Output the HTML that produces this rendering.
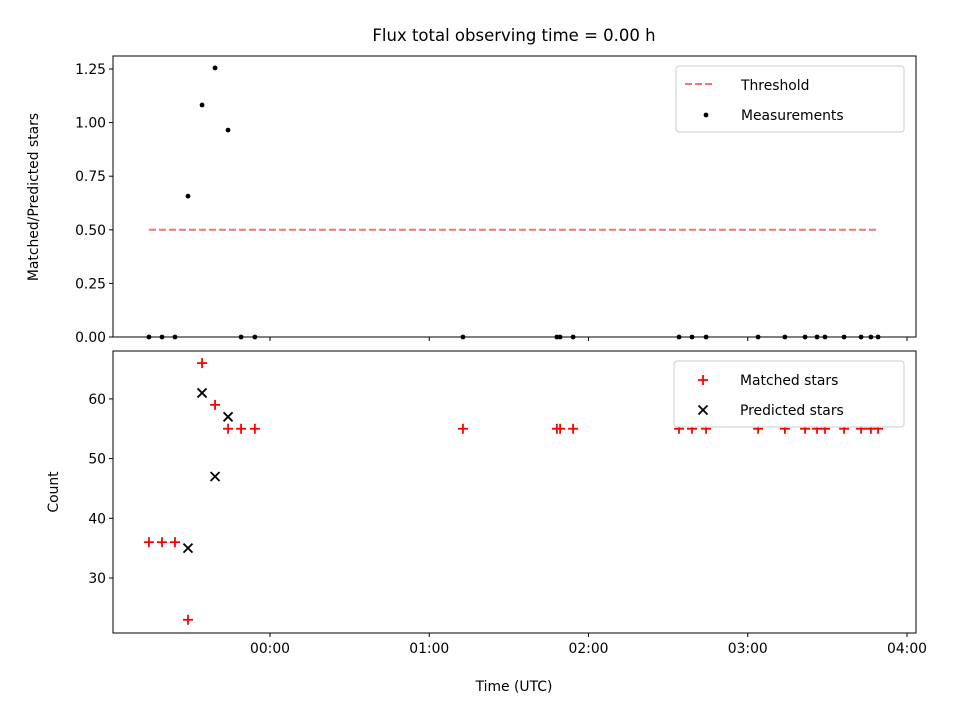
<!DOCTYPE html>
<html><head><meta charset="utf-8"><style>
body{margin:0;background:#fff}
svg{display:block;font-family:"DejaVu Sans","Liberation Sans",sans-serif}
</style></head><body>
<svg id="chart" width="960" height="720" viewBox="0 0 960 720"></svg>
<script>
const timesMin=[-45.6,-40.7,-35.8,-30.9,-25.6,-20.7,-15.8,-10.9,-5.7,72.7,108.1,109.3,114.2,154.1,159.0,164.3,183.9,194.0,201.6,206.1,209.1,216.3,222.7,226.4,229.1];
const ratioValues=[0,0,0,0.657,1.082,1.255,0.965,0,0,0,0,0,0,0,0,0,0,0,0,0,0,0,0,0,0];
const matchedValues=[36,36,36,23,66,59,55,55,55,55,55,55,55,55,55,55,55,55,55,55,55,55,55,55,55];
const predictedTimes=[-30.9,-25.6,-20.7,-15.8];
const predictedValues=[35,61,47,57];
const thresholdValue=0.5;
const xTickLabels=["00:00","01:00","02:00","03:00","04:00"];
const xTickMins=[0,60,120,180,240];
const topYTicks=[0,0.25,0.5,0.75,1.0,1.25];
const botYTicks=[30,40,50,60];

const NS="http://www.w3.org/2000/svg";
const svg=document.getElementById("chart");
function el(tag,attrs,parent){const e=document.createElementNS(NS,tag);for(const k in attrs)e.setAttribute(k,attrs[k]);(parent||svg).appendChild(e);return e;}
const L=113,R=916;
const xS=m=>270+m*(159.25/60);
const topT=56,topB=337,botT=351,botB=633;
const yTop=v=>337-v*214.4;
const yBot=v=>578-(v-30)*5.97;

let t=el("text",{x:514,y:41,"text-anchor":"middle","font-size":"16.5"});
t.textContent="Flux total observing time = 0.00 h";



const g1=el("g",{});


const thr=el("line",{x1:xS(timesMin[0]),x2:xS(timesMin[timesMin.length-1]),y1:yTop(thresholdValue),y2:yTop(thresholdValue),stroke:"#ff7070","stroke-width":2,"stroke-dasharray":"7,3"},g1);


timesMin.forEach((m,i)=>{const c=el("circle",{cx:xS(m),cy:yTop(ratioValues[i]),r:2.4,fill:"#000"},g1);

});
const f1=el("rect",{x:L,y:topT,width:R-L,height:topB-topT,fill:"none",stroke:"#000","stroke-width":1},g1);


topYTicks.forEach(v=>{const y=yTop(v);el("line",{x1:L-4,x2:L,y1:y,y2:y,stroke:"#000"},g1);
const tx=el("text",{x:L-7,y:y+5,"text-anchor":"end","font-size":"13.9"},g1);tx.textContent=v.toFixed(2);

});
xTickMins.forEach(m=>{el("line",{x1:xS(m),x2:xS(m),y1:topB,y2:topB+4,stroke:"#000"},g1);});
const yl1=el("text",{transform:"translate(38,197) rotate(-90)","text-anchor":"middle","font-size":"13.9"},g1);
yl1.textContent="Matched/Predicted stars";


const lg1=el("g",{},g1);


el("rect",{x:676,y:66,width:228,height:66,rx:3,fill:"#fff",stroke:"#ccc"},lg1);
el("line",{x1:685,x2:713,y1:84,y2:84,stroke:"#ff7070","stroke-width":2,"stroke-dasharray":"7,3"},lg1);
let lt=el("text",{x:741,y:90,"font-size":"13.9"},lg1);lt.textContent="Threshold";
el("circle",{cx:706,cy:115,r:2.4,fill:"#000"},lg1);
lt=el("text",{x:741,y:120,"font-size":"13.9"},lg1);lt.textContent="Measurements";

const g2=el("g",{});


function plus(x,y,p){const g=el("g",{stroke:"#f00","stroke-width":1.8},p);el("line",{x1:x-5,x2:x+5,y1:y,y2:y},g);el("line",{x1:x,x2:x,y1:y-5,y2:y+5},g);return g;}
function cross(x,y,p){const g=el("g",{stroke:"#000","stroke-width":1.8},p);el("line",{x1:x-4.5,x2:x+4.5,y1:y-4.5,y2:y+4.5},g);el("line",{x1:x-4.5,x2:x+4.5,y1:y+4.5,y2:y-4.5},g);return g;}
timesMin.forEach((m,i)=>{const p=plus(xS(m),yBot(matchedValues[i]),g2);

});
predictedTimes.forEach((m,i)=>{const c=cross(xS(m),yBot(predictedValues[i]),g2);

});
const f2=el("rect",{x:L,y:botT,width:R-L,height:botB-botT,fill:"none",stroke:"#000","stroke-width":1},g2);


botYTicks.forEach(v=>{const y=yBot(v);el("line",{x1:L-4,x2:L,y1:y,y2:y,stroke:"#000"},g2);
const tx=el("text",{x:L-7,y:y+5,"text-anchor":"end","font-size":"13.9"},g2);tx.textContent=String(v);

});
xTickMins.forEach((m,i)=>{el("line",{x1:xS(m),x2:xS(m),y1:botB,y2:botB+4,stroke:"#000"},g2);
const tx=el("text",{x:xS(m),y:botB+20,"text-anchor":"middle","font-size":"13.9"},g2);tx.textContent=xTickLabels[i];

});
const yl2=el("text",{transform:"translate(58,492) rotate(-90)","text-anchor":"middle","font-size":"13.9"},g2);
yl2.textContent="Count";


const xl=el("text",{x:514,y:691,"text-anchor":"middle","font-size":"13.9"},g2);
xl.textContent="Time (UTC)";


const lg2=el("g",{},g2);


el("rect",{x:674,y:361,width:230,height:66,rx:3,fill:"#fff",stroke:"#ccc"},lg2);
plus(703,380,lg2);
lt=el("text",{x:740,y:385,"font-size":"13.9"},lg2);lt.textContent="Matched stars";
cross(703,410,lg2);
lt=el("text",{x:740,y:415,"font-size":"13.9"},lg2);lt.textContent="Predicted stars";
</script>
</body></html>
